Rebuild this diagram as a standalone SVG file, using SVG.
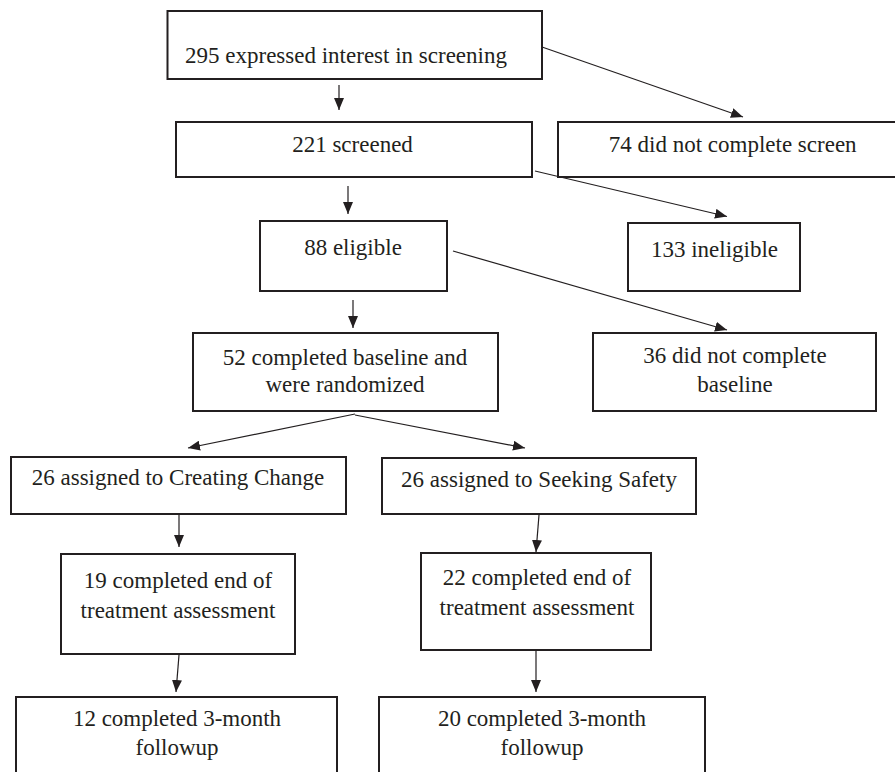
<svg xmlns="http://www.w3.org/2000/svg" width="895" height="772" viewBox="0 0 895 772">
<style>
.box{fill:#fff;stroke:#231f20;stroke-width:2}
.t{font-family:'Liberation Serif','Times New Roman',Times,'DejaVu Serif',serif;font-size:23px;fill:#231f20;text-anchor:middle}
.c{stroke:#231f20;stroke-width:1.2;fill:none;marker-end:url(#ah)}
</style>
<defs>
<marker id="ah" markerUnits="userSpaceOnUse" markerWidth="13" markerHeight="10" refX="12" refY="5" orient="auto">
<path d="M0,0 L12,5 L0,10 z" fill="#231f20"/>
</marker>
</defs>
<rect width="895" height="772" fill="#fff"/>
<g id="n1"><rect class="box" x="167.5" y="11" width="374.5" height="68"/><text class="t" font-family="Liberation Serif, serif" x="346" y="63">295 expressed interest in screening</text></g>
<g id="n2"><rect class="box" x="176" y="122" width="356" height="55"/><text class="t" font-family="Liberation Serif, serif" x="352.5" y="152">221 screened</text></g>
<g id="n3"><rect class="box" x="558" y="122" width="350" height="55"/><text class="t" font-family="Liberation Serif, serif" x="732.7" y="152">74 did not complete screen</text></g>
<g id="n4"><rect class="box" x="260" y="221" width="187" height="70"/><text class="t" font-family="Liberation Serif, serif" x="353" y="255">88 eligible</text></g>
<g id="n5"><rect class="box" x="628" y="223" width="172" height="68"/><text class="t" font-family="Liberation Serif, serif" x="714.5" y="257">133 ineligible</text></g>
<g id="n6"><rect class="box" x="193" y="333" width="305" height="78"/><text class="t" font-family="Liberation Serif, serif" x="345" y="365">52 completed baseline and</text><text class="t" font-family="Liberation Serif, serif" x="345" y="392">were randomized</text></g>
<g id="n7"><rect class="box" x="593" y="333" width="283" height="78"/><text class="t" font-family="Liberation Serif, serif" x="735" y="363">36 did not complete</text><text class="t" font-family="Liberation Serif, serif" x="735" y="392">baseline</text></g>
<g id="n8"><rect class="box" x="11" y="457" width="335" height="57"/><text class="t" font-family="Liberation Serif, serif" x="178" y="485">26 assigned to Creating Change</text></g>
<g id="n9"><rect class="box" x="382" y="458" width="314" height="56"/><text class="t" font-family="Liberation Serif, serif" x="539" y="487">26 assigned to Seeking Safety</text></g>
<g id="n10"><rect class="box" x="61" y="554" width="234" height="100"/><text class="t" font-family="Liberation Serif, serif" x="178" y="588">19 completed end of</text><text class="t" font-family="Liberation Serif, serif" x="178" y="618">treatment assessment</text></g>
<g id="n11"><rect class="box" x="421" y="553" width="230" height="97"/><text class="t" font-family="Liberation Serif, serif" x="537" y="585">22 completed end of</text><text class="t" font-family="Liberation Serif, serif" x="537" y="615">treatment assessment</text></g>
<g id="n12"><rect class="box" x="16" y="697" width="321" height="100"/><text class="t" font-family="Liberation Serif, serif" x="177" y="726">12 completed 3-month</text><text class="t" font-family="Liberation Serif, serif" x="177" y="755">followup</text></g>
<g id="n13"><rect class="box" x="379" y="697" width="326" height="100"/><text class="t" font-family="Liberation Serif, serif" x="542" y="726">20 completed 3-month</text><text class="t" font-family="Liberation Serif, serif" x="542" y="755">followup</text></g>
<g id="connectors">
<line class="c" x1="542" y1="47" x2="743" y2="117"/>
<line class="c" x1="339" y1="85" x2="339" y2="110"/>
<line class="c" x1="535" y1="171" x2="727" y2="216.5"/>
<line class="c" x1="348" y1="186" x2="348" y2="214"/>
<line class="c" x1="453" y1="251" x2="727" y2="330"/>
<line class="c" x1="353" y1="300" x2="353" y2="328"/>
<line class="c" x1="355" y1="414" x2="188" y2="448"/>
<line class="c" x1="355" y1="415" x2="525" y2="448"/>
<line class="c" x1="179" y1="515" x2="179" y2="547"/>
<line class="c" x1="539" y1="515" x2="536" y2="552"/>
<line class="c" x1="179" y1="655" x2="176" y2="692"/>
<line class="c" x1="536" y1="650" x2="536" y2="692"/>
</g>
</svg>
